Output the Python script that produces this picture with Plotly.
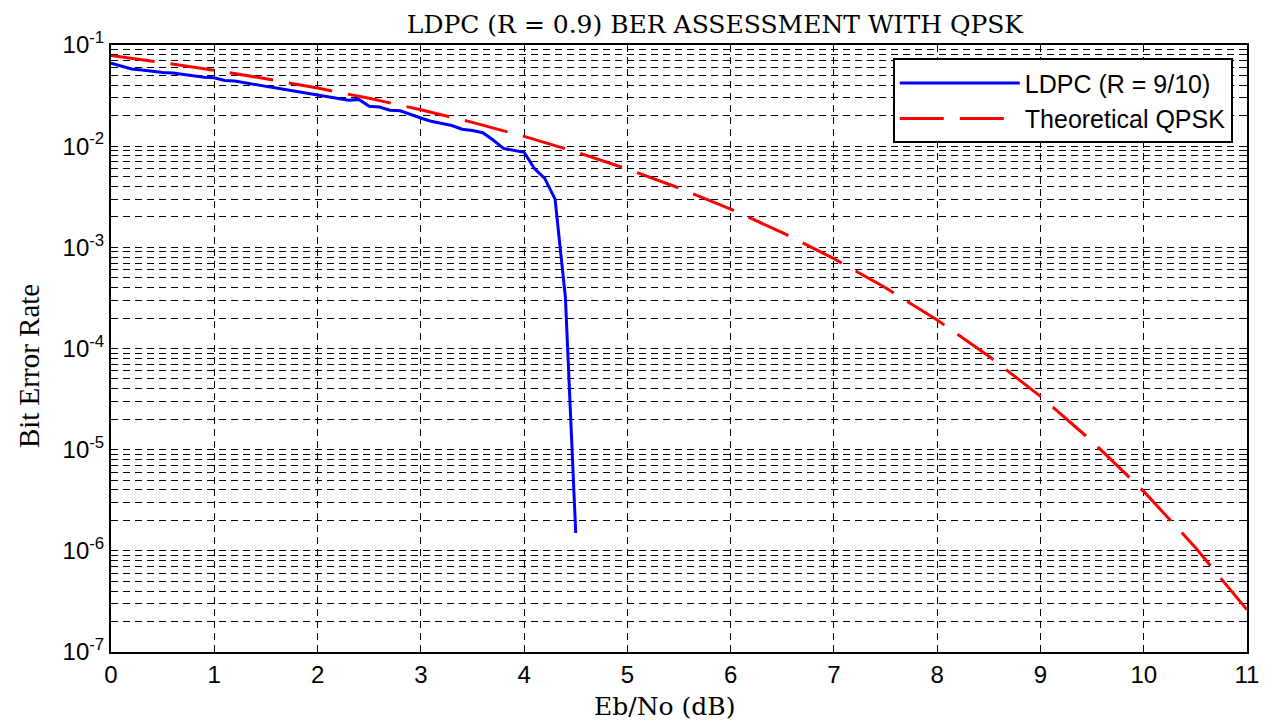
import plotly.graph_objects as go

# Theoretical QPSK BER
qpsk_ebno = [0, 0.5, 1, 1.5, 2, 2.5, 3, 3.5, 4, 4.5, 5, 5.5, 6, 6.5, 7, 7.5, 8, 8.5, 9, 9.5, 10, 10.5, 11]
qpsk_ber = [0.0786, 0.0671, 0.0563, 0.0464, 0.0375, 0.0297, 0.0229, 0.0172, 0.0125, 0.0088,
            0.00595, 0.00386, 0.00239, 0.0014, 7.73e-4, 3.98e-4, 1.91e-4, 8.4e-5, 3.36e-5,
            1.21e-5, 3.87e-6, 1.08e-6, 2.61e-7]

# LDPC (R = 9/10) simulated BER
ldpc_ebno = [0.0, 0.1, 0.2, 0.3, 0.4, 0.5, 0.6, 0.7, 0.8, 0.9, 1.0, 1.1, 1.2, 1.3, 1.4, 1.5,
             1.6, 1.7, 1.8, 1.9, 2.0, 2.1, 2.2, 2.3, 2.4, 2.5, 2.6, 2.7, 2.8, 2.9, 3.0, 3.1,
             3.2, 3.3, 3.4, 3.5, 3.6, 3.7, 3.8, 3.9, 4.0, 4.1, 4.2, 4.3, 4.4, 4.5]
ldpc_ber = [0.066, 0.062, 0.058, 0.0565, 0.055, 0.0535, 0.053, 0.051, 0.0495, 0.048, 0.0475,
            0.0445, 0.044, 0.0425, 0.041, 0.039, 0.0375, 0.036, 0.0345, 0.0335, 0.032, 0.031,
            0.0295, 0.0285, 0.029, 0.0248, 0.0244, 0.0227, 0.0224, 0.0208, 0.019, 0.0176,
            0.0168, 0.016, 0.0147, 0.0143, 0.0136, 0.0115, 0.0095, 0.0091, 0.0087, 0.006,
            0.0048, 0.003, 3.2e-4, 1.5e-6]

x_ticks = list(range(0, 12))
y_exponents = [-1, -2, -3, -4, -5, -6, -7]

y_tickvals = [10.0 ** e for e in y_exponents]
y_ticktext = ["10<sup>%d</sup>" % e for e in y_exponents]
y_minor = [m * 10.0 ** e for e in range(-7, -1) for m in range(2, 10)]

fig = go.Figure()
fig.add_trace(go.Scatter(x=ldpc_ebno, y=ldpc_ber, mode="lines", name="LDPC (R = 9/10)",
                         line=dict(color="#0000ff", width=3)))
fig.add_trace(go.Scatter(x=qpsk_ebno, y=qpsk_ber, mode="lines", name="Theoretical QPSK",
                         line=dict(color="#ff0000", width=3, dash="44px,16px")))

axis_font = dict(family="Liberation Sans, Arial", size=24, color="black")
fig.update_layout(
    width=1259, height=714,
    paper_bgcolor="white", plot_bgcolor="white",
    margin=dict(l=103, r=20, t=37, b=70),
    title=dict(text="LDPC (R = 0.9) BER ASSESSMENT WITH QPSK", x=0.5615, xanchor="center",
               xref="container", y=0.99, yanchor="top",
               font=dict(family="DejaVu Serif", size=25, color="black")),
    showlegend=True,
    legend=dict(x=0.9875, y=0.978, xanchor="right", yanchor="top",
                bgcolor="white", bordercolor="black", borderwidth=2,
                font=dict(family="Liberation Sans, Arial", size=25, color="black"),
                tracegroupgap=0, itemwidth=120),
    xaxis=dict(range=[0, 11], tickvals=x_ticks, ticktext=[str(v) for v in x_ticks],
               showgrid=True, gridcolor="black", griddash="7px,5px", gridwidth=1,
               showline=True, linecolor="black", linewidth=2, mirror="ticks",
               ticks="inside", ticklen=6, tickcolor="black", zeroline=False,
               tickfont=axis_font, automargin=False),
    yaxis=dict(type="log", range=[-7, -1], tickvals=y_tickvals, ticktext=y_ticktext,
               showgrid=True, gridcolor="black", griddash="7px,5px", gridwidth=1,
               showline=True, linecolor="black", linewidth=2, mirror="ticks",
               ticks="inside", ticklen=6, tickcolor="black", zeroline=False,
               tickfont=axis_font, automargin=False,
               minor=dict(tickvals=y_minor, showgrid=True, gridcolor="black",
                          griddash="7px,5px", gridwidth=1, ticks="inside", ticklen=4,
                          tickcolor="black")),
    annotations=[
        dict(text="Eb/No (dB)", xref="paper", yref="paper", x=0.4868, y=-0.089,
             xanchor="center", yanchor="middle", showarrow=False,
             font=dict(family="DejaVu Serif", size=25, color="black")),
        dict(text="Bit Error Rate", xref="paper", yref="paper", x=-0.0722, y=0.471,
             xanchor="center", yanchor="middle", showarrow=False, textangle=-90,
             font=dict(family="Liberation Serif", size=29, color="black")),
    ],
)

fig.write_html("out.html")
